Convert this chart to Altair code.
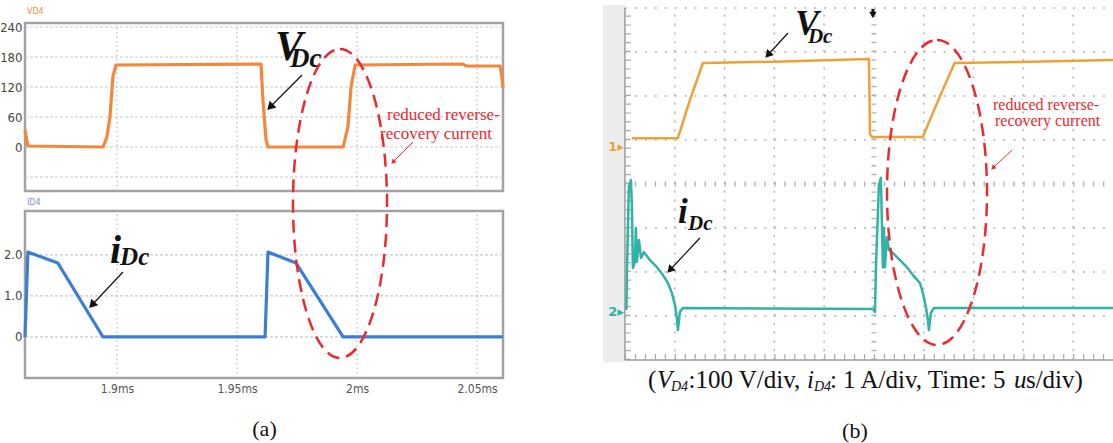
import altair as alt
import pandas as pd

# ---------------- panel (a): simulation ----------------
A_VD_T = [1.8617, 1.8629, 1.8942, 1.8958, 1.8971, 1.8983, 1.8996, 1.9600, 1.9608, 1.9621,
          1.9629, 1.9942, 1.9962, 1.9975, 1.9992, 2.0441, 2.0454, 2.0596, 2.0604, 2.0608]
A_VD_V = [34, 2, 0, 20, 60, 140, 164, 166, 94, 14, 0, 0, 40, 120, 164, 166, 162, 162, 138, 118]
A_ID_T = [1.8617, 1.8621, 1.8629, 1.8754, 1.8942, 1.9617, 1.9629, 1.9746, 1.9942, 2.0608]
A_ID_A = [0.0, 0.66, 2.07, 1.80, 0.0, 0.0, 2.07, 1.80, 0.0, 0.0]
A_T_TICKS = [1.9, 1.95, 2.0, 2.05]
A_V_TICKS = [0, 60, 120, 180, 240]
A_V_GRID = [-60, 0, 60, 120, 180, 240]
A_I_TICKS = [0, 1, 2]
A_T_RANGE = [1.8617, 2.0608]
A_V_RANGE = [-88, 248]
A_I_RANGE = [-1.0, 3.07]

# ---------------- panel (b): oscilloscope ----------------
B_VD_T = [0.70, 5.32, 6.53, 7.83, 15.0, 24.5, 24.6, 24.8, 29.9, 31.6, 33.1, 40.7, 49.0]
B_VD_V = [20, 20, 107, 191, 194, 200, 30, 23, 23, 114, 191, 194, 198]
B_ID_T = [0.15, 0.20, 0.40, 0.60, 0.70, 0.80, 1.00, 1.10, 1.20, 1.41,
          1.61, 1.91, 2.51, 3.21, 3.82, 4.32, 4.72, 5.02, 5.22, 5.32,
          5.52, 5.82, 24.90, 25.10, 25.20, 25.50, 25.70, 25.90, 26.00, 26.10,
          26.31, 26.51, 26.91, 27.31, 28.31, 28.92, 29.62, 29.92, 30.22, 30.42,
          30.52, 30.72, 31.02, 49.0]
B_ID_A = [0.05, 0.89, 2.86, 3.00, 2.43, 1.00, 1.14, 1.91, 1.14, 1.64,
          1.23, 1.36, 1.18, 1.02, 0.84, 0.66, 0.43, 0.16, -0.14, -0.41,
          0.00, 0.09, 0.07, 0.00, 1.00, 2.89, 3.05, 1.02, 1.91, 1.02,
          1.70, 1.41, 1.34, 1.25, 1.02, 0.84, 0.66, 0.43, 0.11, -0.18,
          -0.41, -0.02, 0.09, 0.09]
B_T_RANGE = [-2.2, 49.0]
B_DIV_RANGE = [0, 8]
B_T_GRID = [5, 10, 15, 20, 30, 35, 40, 45]
B_DIV_GRID = [1, 2, 3, 5, 6, 7, 8]
B_V_PER_DIV = 100
B_A_PER_DIV = 1
B_CH1_ZERO_DIV = 4.84
B_CH2_ZERO_DIV = 1.09

# ---------------- styles ----------------
SERIF = "Liberation Serif"
NARROW = "Liberation Sans Narrow, DejaVu Sans Condensed, sans-serif"
RED = "#ea2a2e"
GRID_A = "#c9c9c9"
GRID_B = "#b3b3b3"

SX_A = alt.Scale(domain=A_T_RANGE, range=[25, 503], nice=False, zero=False)
SY_AV = alt.Scale(domain=A_V_RANGE, range=[191, 23], nice=False, zero=False)
SY_AI = alt.Scale(domain=A_I_RANGE, range=[378, 211], nice=False, zero=False)
SX_B = alt.Scale(domain=B_T_RANGE, range=[603, 1113], nice=False, zero=False)
SY_BD = alt.Scale(domain=B_DIV_RANGE, range=[360, 8], nice=False, zero=False)
SY_B1 = alt.Scale(domain=[-B_CH1_ZERO_DIV * B_V_PER_DIV, (8 - B_CH1_ZERO_DIV) * B_V_PER_DIV],
                  range=[360, 8], nice=False, zero=False)
SY_B2 = alt.Scale(domain=[-B_CH2_ZERO_DIV * B_A_PER_DIV, (8 - B_CH2_ZERO_DIV) * B_A_PER_DIV],
                  range=[360, 8], nice=False, zero=False)

AX_AV = alt.Axis(values=A_V_TICKS, orient="left", offset=-25, ticks=False, domain=False,
                 grid=False, labelFont=NARROW, labelFontSize=13, labelColor="#444444",
                 labelPadding=3, title=None, format="d")
AX_AI = alt.Axis(values=A_I_TICKS, orient="left", offset=-25, ticks=False, domain=False,
                 grid=False, labelFont=NARROW, labelFontSize=13, labelColor="#444444",
                 labelPadding=3, title=None,
                 labelExpr="datum.value === 0 ? '0' : format(datum.value, '.1f')")
AX_AT = alt.Axis(values=A_T_TICKS, orient="bottom", offset=-65, ticks=False, domain=False,
                 grid=False, labelFont=NARROW, labelFontSize=12, labelColor="#555555",
                 labelPadding=5, labelExpr="format(datum.value, '~g') + 'ms'",
                 minExtent=16, maxExtent=16, title="(a)", titleFont=SERIF, titleFontSize=22,
                 titleFontWeight="normal", titleColor="#111111", titlePadding=24)

# panel coordinate systems: (x scale, y scale, x axis, y axis)
P_ATOP = (SX_A, SY_AV, None, AX_AV)
P_ABOT = (SX_A, SY_AI, AX_AT, AX_AI)
P_AANN = (SX_A, SY_AV, None, None)
P_BDIV = (SX_B, SY_BD, None, None)
P_BCH1 = (SX_B, SY_B1, None, None)
P_BCH2 = (SX_B, SY_B2, None, None)


def xy(p):
    sx, sy, ax, ay = p
    return dict(x=alt.X("x:Q", scale=sx, axis=ax), y=alt.Y("y:Q", scale=sy, axis=ay))


def label(p, x, y, s, **mk):
    df = pd.DataFrame({"x": [x], "y": [y], "s": [s]})
    return alt.Chart(df).mark_text(**mk).encode(**xy(p), text="s:N")


def seg(p, x0, y0, x1, y1, **mk):
    df = pd.DataFrame({"x": [x0], "y": [y0], "x2": [x1], "y2": [y1]})
    return alt.Chart(df).mark_rule(**mk).encode(**xy(p), x2="x2:Q", y2="y2:Q")


def arrow(p, x0, y0, x1, y1, ang, color, width, head):
    hd = alt.Chart(pd.DataFrame({"x": [x1], "y": [y1]})).mark_point(
        shape="triangle-right", filled=True, color=color, size=head, angle=ang, opacity=1
    ).encode(**xy(p))
    return [seg(p, x0, y0, x1, y1, color=color, strokeWidth=width), hd]


def ellipse(p, x, y, rx, ry):
    a = rx / ry
    k = 0.5523
    path = (f"M0,-1C{k*a:.4f},-1,{a:.4f},{-k:.4f},{a:.4f},0"
            f"C{a:.4f},{k:.4f},{k*a:.4f},1,0,1"
            f"C{-k*a:.4f},1,{-a:.4f},{k:.4f},{-a:.4f},0"
            f"C{-a:.4f},{-k:.4f},{-k*a:.4f},-1,0,-1Z")
    return alt.Chart(pd.DataFrame({"x": [x], "y": [y]})).mark_point(
        shape=path, size=(2 * ry) ** 2, filled=False, stroke=RED, strokeWidth=2.5,
        strokeDash=[13, 7], opacity=1
    ).encode(**xy(p))


def hgrid(p, vals, x0, x1, **mk):
    df = pd.DataFrame({"y": vals, "x": [x0] * len(vals), "x2": [x1] * len(vals)})
    return alt.Chart(df).mark_rule(**mk).encode(**xy(p), x2="x2:Q")


def vgrid(p, vals, y0, y1, **mk):
    df = pd.DataFrame({"x": vals, "y": [y0] * len(vals), "y2": [y1] * len(vals)})
    return alt.Chart(df).mark_rule(**mk).encode(**xy(p), y2="y2:Q")


def box(p, xr, yr, **mk):
    df = pd.DataFrame({"x": [xr[0]], "x2": [xr[1]], "y": [yr[0]], "y2": [yr[1]]})
    return alt.Chart(df).mark_rect(**mk).encode(**xy(p), x2="x2:Q", y2="y2:Q")


def trace(p, ts, vs, color, width):
    df = pd.DataFrame({"x": ts, "y": vs, "i": list(range(len(ts)))})
    return alt.Chart(df).mark_line(color=color, strokeWidth=width, strokeJoin="round").encode(
        **xy(p), order=alt.Order("i:Q"))


BIG = dict(font=SERIF, fontStyle="italic", fontWeight="bold", color="#111111",
           align="left", baseline="alphabetic")
REDTXT = dict(font=SERIF, color=RED, align="left", baseline="alphabetic")
FRAME = dict(fillOpacity=0, stroke="#a2a2a2", strokeWidth=2.5)

# ---------- (a) top: V_D4 ----------
a_top = alt.layer(
    box(P_ATOP, A_T_RANGE, A_V_RANGE, **FRAME),
    hgrid(P_ATOP, A_V_GRID, A_T_RANGE[0], A_T_RANGE[1], color=GRID_A, strokeWidth=1.2, strokeDash=[3, 2]),
    vgrid(P_ATOP, A_T_TICKS, A_V_RANGE[0], A_V_RANGE[1], color="#bdbdbd", strokeWidth=1.2, strokeDash=[1.5, 3]),
    trace(P_ATOP, A_VD_T, A_VD_V, "#f6873a", 3.2),
    label(P_ATOP, 1.8625, 270, "VD4", font="DejaVu Sans", fontSize=8, color="#f28a45",
          align="left", baseline="middle"),
)

# ---------- (a) bottom: i_D4 ----------
a_bot = alt.layer(
    box(P_ABOT, A_T_RANGE, A_I_RANGE, **FRAME),
    hgrid(P_ABOT, A_I_TICKS, A_T_RANGE[0], A_T_RANGE[1], color=GRID_A, strokeWidth=1.2, strokeDash=[3, 2]),
    vgrid(P_ABOT, A_T_TICKS, A_I_RANGE[0], A_I_RANGE[1], color="#bdbdbd", strokeWidth=1.2, strokeDash=[1.5, 3]),
    trace(P_ABOT, A_ID_T, A_ID_A, "#3a7fd6", 3.2),
    label(P_ABOT, 1.8625, 3.265, "ID4", font="DejaVu Sans", fontSize=8, color="#7b8fe0",
          align="left", baseline="middle"),
    label(P_ABOT, 1.8971, 1.803, "i", fontSize=40, **BIG),
    label(P_ABOT, 1.9013, 1.754, "Dc", fontSize=25, **BIG),
    *arrow(P_ABOT, 1.9025, 1.583, 1.8896, 0.779, 133, "#111111", 1.2, 90),
)

# ---------- (a) annotations (top-panel units) ----------
a_ann = alt.layer(
    label(P_AANN, 1.9658, 174, "V", fontSize=42, **BIG),
    label(P_AANN, 1.9721, 160, "Dc", fontSize=27, **BIG),
    *arrow(P_AANN, 1.9771, 144, 1.9638, 80, 135, "#111111", 1.2, 90),
    label(P_AANN, 2.0125, 54, "reduced reverse-", fontSize=17, **REDTXT),
    label(P_AANN, 2.0096, 16, "recovery current", fontSize=17, **REDTXT),
    *arrow(P_AANN, 2.0233, 10, 2.0150, -30, 135, RED, 1.0, 30),
    ellipse(P_AANN, 1.9929, -113, 47, 154.5),
)

# ---------- (b) screen grid ----------
b_grid = alt.layer(
    box(P_BDIV, [B_T_RANGE[0], 0], [-0.05, 8.07], color="#ececec"),
    vgrid(P_BDIV, B_T_GRID, 0, 8, color=GRID_B, strokeWidth=1.5, strokeDash=[2, 6.8]),
    hgrid(P_BDIV, B_DIV_GRID, 0, B_T_RANGE[1], color=GRID_B, strokeWidth=1.5, strokeDash=[2, 7.96]),
    hgrid(P_BDIV, [4], 0, B_T_RANGE[1], color=GRID_B, strokeWidth=5, strokeDash=[1.4, 8.56]),
    vgrid(P_BDIV, [25], 0, 8, color=GRID_B, strokeWidth=5, strokeDash=[1.4, 7.4]),
    vgrid(P_BDIV, [0], 0, 8, color="#9d9d9d", strokeWidth=1.5),
    vgrid(P_BDIV, [0.3], 0, 8, color="#a9a9a9", strokeWidth=6, strokeDash=[1.2, 7.6]),
    hgrid(P_BDIV, [0], 0, B_T_RANGE[1], color="#9d9d9d", strokeWidth=1.5),
    hgrid(P_BDIV, [0.07], 0, B_T_RANGE[1], color="#a9a9a9", strokeWidth=6, strokeDash=[1.2, 8.76]),
    alt.Chart(pd.DataFrame({"x": [24.9], "y": [7.84]})).mark_point(
        shape="triangle-down", filled=True, color="#111111", size=55, opacity=1).encode(**xy(P_BDIV)),
    seg(P_BDIV, 24.9, 7.98, 24.9, 7.88, color="#111111", strokeWidth=3),
)

# ---------- (b) channels ----------
b_ch1 = alt.layer(
    trace(P_BCH1, B_VD_T, B_VD_V, "#eea03a", 2.5),
    label(P_BCH1, -0.1, 0, "1▸", font="DejaVu Sans", fontSize=13, fontWeight="bold",
          color="#eea03a", align="right", baseline="middle"),
)
b_ch2 = alt.layer(
    trace(P_BCH2, B_ID_T, B_ID_A, "#2fb3a6", 2.5),
    label(P_BCH2, -0.1, 0, "2▸", font="DejaVu Sans", fontSize=13, fontWeight="bold",
          color="#2fb3a6", align="right", baseline="middle"),
)

# ---------- (b) annotations and caption ----------
CAP = dict(font=SERIF, color="#111111", align="left", baseline="alphabetic")
CAP_Y = -0.636      # caption baseline (divisions below the screen)
SUB_Y = -0.705      # subscript baseline
b_ann = alt.layer(
    label(P_BDIV, 17.07, 7.386, "V", fontSize=36, **BIG),
    label(P_BDIV, 18.37, 7.205, "Dc", fontSize=21, **BIG),
    *arrow(P_BDIV, 16.37, 7.432, 14.36, 6.932, 132, "#111111", 1.2, 80),
    label(P_BDIV, 5.32, 3.114, "i", fontSize=35, **BIG),
    label(P_BDIV, 6.33, 2.955, "Dc", fontSize=21, **BIG),
    *arrow(P_BDIV, 7.53, 2.773, 4.52, 2.045, 133, "#111111", 1.2, 80),
    label(P_BDIV, 36.95, 5.682, "reduced reverse-", fontSize=16, **REDTXT),
    label(P_BDIV, 37.15, 5.318, "recovery current", fontSize=16, **REDTXT),
    *arrow(P_BDIV, 38.86, 4.773, 36.95, 4.364, 137, RED, 1.0, 30),
    ellipse(P_BDIV, 31.33, 3.807, 50, 152.5),
    label(P_BDIV, 2.31, CAP_Y, "(", fontSize=25, **CAP),
    label(P_BDIV, 3.21, CAP_Y, "V", fontSize=25, fontStyle="italic", **CAP),
    label(P_BDIV, 4.62, SUB_Y, "D4", fontSize=14, fontStyle="italic", **CAP),
    label(P_BDIV, 6.38, CAP_Y, ":100 V/div,", fontSize=25, **CAP),
    label(P_BDIV, 18.27, CAP_Y, "i", fontSize=25, fontStyle="italic", **CAP),
    label(P_BDIV, 18.98, SUB_Y, "D4", fontSize=14, fontStyle="italic", **CAP),
    label(P_BDIV, 20.58, CAP_Y, ": 1 A/div, Time: 5", fontSize=25, **CAP),
    label(P_BDIV, 39.06, CAP_Y, "u", fontSize=25, fontStyle="italic", **CAP),
    label(P_BDIV, 40.26, CAP_Y, "s/div)", fontSize=25, **CAP),
    label(P_BDIV, 23.09, -1.614, "(b)", font=SERIF, fontSize=22, color="#111111",
          align="center", baseline="middle"),
)

chart = alt.layer(a_top, a_bot, a_ann, b_grid, b_ch1, b_ch2, b_ann).resolve_scale(
    x="independent", y="independent"
).properties(
    width=1113, height=443, padding=0, background="white",
    autosize=alt.AutoSizeParams(type="none"),
).configure_view(strokeWidth=0)

chart.save("out.html", embed_options={"renderer": "svg", "actions": False})
